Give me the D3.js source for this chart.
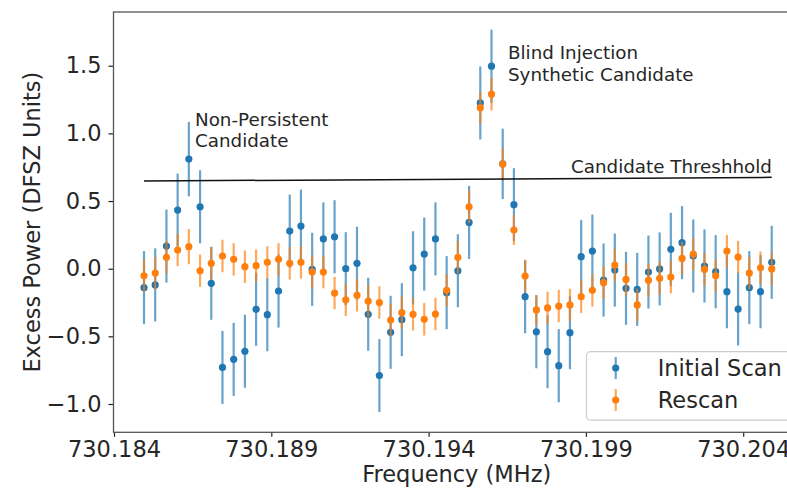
<!DOCTYPE html>
<html><head><meta charset="utf-8">
<script src="https://cdn.jsdelivr.net/npm/d3@7"></script>
<style>body{margin:0;background:#fff}svg{display:block;font-family:"DejaVu Sans",sans-serif}</style>
</head><body><svg id="c" width="787" height="489"></svg>
<script>
const frequencies = [
730.184954,730.185310,730.185667,730.186023,730.186379,730.186736,730.187092,730.187448,730.187804,730.188161,
730.188517,730.188873,730.189230,730.189586,730.189942,730.190299,730.190655,730.191011,730.191367,730.191724,
730.192080,730.192436,730.192793,730.193149,730.193505,730.193862,730.194218,730.194574,730.194930,730.195287,
730.195643,730.195999,730.196356,730.196712,730.197068,730.197425,730.197781,730.198137,730.198493,730.198850,
730.199206,730.199562,730.199919,730.200275,730.200631,730.200988,730.201344,730.201700,730.202056,730.202413,
730.202769,730.203125,730.203482,730.203838,730.204194,730.204551,730.204907];
const initialScan = [
-0.14,-0.12,0.167,0.433,0.81,0.458,-0.108,-0.73,-0.67,-0.61,
-0.30,-0.34,-0.165,0.278,0.315,-0.005,0.22,0.236,0.0,0.04,
-0.337,-0.79,-0.47,-0.377,0.007,0.108,0.22,-0.177,-0.015,0.342,
1.225,1.497,0.775,0.473,-0.207,-0.466,-0.613,-0.717,-0.473,0.089,
0.13,-0.084,-0.01,-0.145,-0.153,-0.025,-0.002,0.143,0.192,0.094,
0.02,-0.022,-0.17,-0.298,-0.14,-0.17,0.047];
const initialErr = [
0.27,0.27,0.27,0.27,0.275,0.27,0.27,0.27,0.27,0.27,
0.27,0.27,0.27,0.27,0.27,0.27,0.27,0.27,0.27,0.27,
0.27,0.27,0.27,0.27,0.27,0.27,0.27,0.27,0.27,0.27,
0.27,0.27,0.26,0.27,0.27,0.27,0.27,0.27,0.27,0.27,
0.27,0.27,0.27,0.27,0.27,0.27,0.27,0.27,0.27,0.27,
0.27,0.27,0.27,0.27,0.27,0.27,0.27];
const rescan = [
-0.052,-0.032,0.084,0.138,0.163,-0.015,0.04,0.094,0.069,0.015,
0.022,0.047,0.069,0.04,0.047,-0.025,-0.025,-0.18,-0.23,-0.197,
-0.24,-0.25,-0.38,-0.325,-0.337,-0.374,-0.335,-0.16,0.084,0.458,
1.19,1.29,0.773,0.286,-0.054,-0.305,-0.29,-0.276,-0.268,-0.207,
-0.16,-0.103,0.027,-0.079,-0.268,-0.086,-0.071,-0.062,0.076,0.108,
-0.005,-0.052,0.13,0.086,-0.032,0.007,-0.002];
const rescanErr = [
0.12,0.12,0.12,0.12,0.13,0.12,0.12,0.12,0.12,0.12,
0.12,0.12,0.12,0.12,0.12,0.12,0.12,0.12,0.12,0.12,
0.12,0.12,0.12,0.12,0.12,0.12,0.12,0.12,0.12,0.12,
0.12,0.12,0.12,0.11,0.12,0.11,0.12,0.12,0.12,0.12,
0.12,0.12,0.12,0.12,0.12,0.12,0.12,0.12,0.12,0.12,
0.12,0.12,0.12,0.12,0.12,0.12,0.12];
const thresholdFreq = [730.184954, 730.204907];
const thresholdValue = [0.648, 0.675];
const xTicks = [730.184, 730.189, 730.194, 730.199, 730.204];
const yTicks = [-1.0, -0.5, 0.0, 0.5, 1.0, 1.5];
const seriesNames = ["Initial Scan", "Rescan"];
const annotationLines = [
  ["Non-Persistent", "Candidate"],
  ["Blind Injection", "Synthetic Candidate"],
  ["Candidate Threshhold"]
];
const annotationAnchors = [[730.186575, 1.058], [730.196524, 1.55], [730.198526, 0.711]];

const svg = d3.select("#c");
const L = 113.5, R = 800, T = 12, B = 432.3;
const x = d3.scaleLinear().domain([730.184 - 0.5/157.3*0.005, 730.184 + (R - 114)/157.3*0.005]).range([L, R]);
const y = d3.scaleLinear().domain([-(B - 268.7)/135.3, (268.7 - T)/135.3]).range([B, T]);
const blue = "#1f77b4", orange = "#ff7f0e", textCol = "#262626";

// series
function drawSeries(vals, errs, col) {
  const g = svg.append("g");
  g.selectAll("line").data(vals).join("line")
    .attr("x1", (d, i) => x(frequencies[i])).attr("x2", (d, i) => x(frequencies[i]))
    .attr("y1", (d, i) => y(d - errs[i])).attr("y2", (d, i) => y(d + errs[i]))
    .attr("stroke", col).attr("stroke-width", 2.2).attr("stroke-opacity", 0.68);
  g.selectAll("circle").data(vals).join("circle")
    .attr("cx", (d, i) => x(frequencies[i])).attr("cy", d => y(d))
    .attr("r", 3.6).attr("fill", col);
}
drawSeries(initialScan, initialErr, blue);
drawSeries(rescan, rescanErr, orange);

// threshold
svg.append("line")
  .attr("x1", x(thresholdFreq[0])).attr("y1", y(thresholdValue[0]))
  .attr("x2", x(thresholdFreq[1])).attr("y2", y(thresholdValue[1]))
  .attr("stroke", "#111").attr("stroke-width", 1.5);

// annotations
annotationLines.forEach((lines, k) => {
  const t = svg.append("text").attr("font-size", 18.3).attr("fill", textCol)
    .attr("x", x(annotationAnchors[k][0])).attr("y", y(annotationAnchors[k][1]));
  lines.forEach((s, j) => t.append("tspan").attr("x", x(annotationAnchors[k][0])).attr("dy", j ? 21.6 : 0).text(s));
});

// axes
const xa = svg.append("g").attr("transform", `translate(0,${B})`)
  .call(d3.axisBottom(x).tickValues(xTicks).tickFormat(d3.format(".3f")).tickSize(4.5).tickPadding(4));
const ya = svg.append("g").attr("transform", `translate(${L},0)`)
  .call(d3.axisLeft(y).tickValues(yTicks).tickFormat(d3.format(".1f")).tickSize(5).tickPadding(7));
[xa, ya].forEach(a => {
  a.select(".domain").remove();
  a.selectAll("line").attr("stroke", "#222").attr("stroke-width", 1.2);
  a.selectAll("text").attr("font-size", 22.5).attr("fill", textCol).attr("font-family", "DejaVu Sans");
});
svg.append("rect").attr("x", L).attr("y", T).attr("width", R - L).attr("height", B - T)
  .attr("fill", "none").attr("stroke", "#555").attr("stroke-width", 1.3);

// axis labels
svg.append("text").attr("x", (L + R) / 2).attr("y", 481.5).attr("text-anchor", "middle")
  .attr("font-size", 22.5).attr("fill", textCol).text("Frequency (MHz)");
svg.append("text").attr("transform", `translate(40,${(T + B) / 2}) rotate(-90)`).attr("text-anchor", "middle")
  .attr("font-size", 22.5).attr("fill", textCol).text("Excess Power (DFSZ Units)");

// legend
const lg = svg.append("g");
lg.append("rect").attr("x", 586.5).attr("y", 351.7).attr("width", 260).attr("height", 68.5).attr("rx", 4)
  .attr("fill", "#fff").attr("fill-opacity", 0.85).attr("stroke", "#ccc").attr("stroke-width", 1.2);
[blue, orange].forEach((col, k) => {
  const cy = 368 + k * 32;
  lg.append("line").attr("x1", 615.7).attr("x2", 615.7).attr("y1", cy - 11).attr("y2", cy + 11)
    .attr("stroke", col).attr("stroke-width", 2.2).attr("stroke-opacity", 0.68);
  lg.append("circle").attr("cx", 615.7).attr("cy", cy).attr("r", 3.6).attr("fill", col);
  lg.append("text").attr("x", 657.7).attr("y", cy + 8).attr("font-size", 22.5).attr("fill", textCol).text(seriesNames[k]);
});
</script></body></html>
